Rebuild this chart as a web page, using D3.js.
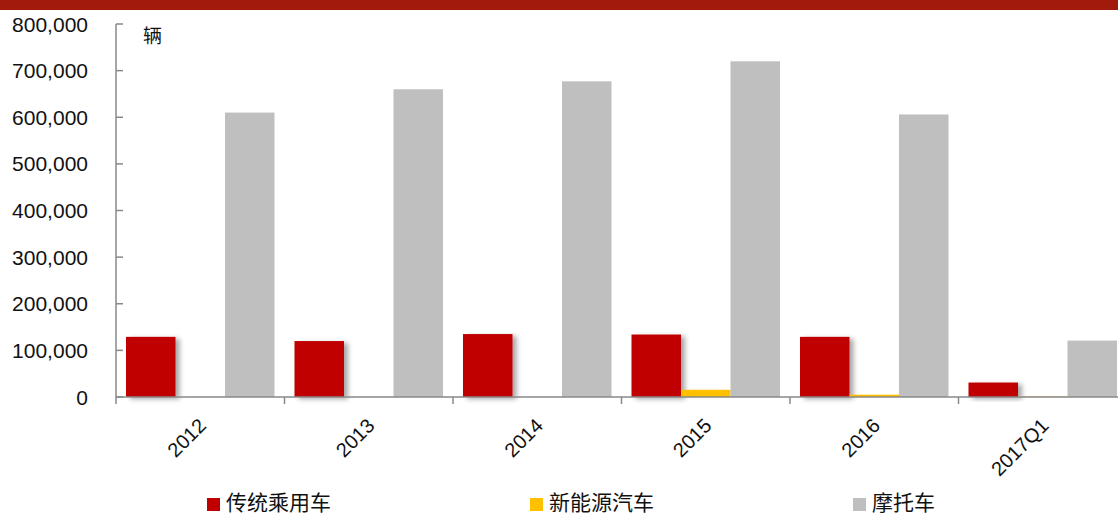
<!DOCTYPE html>
<html lang="zh">
<head>
    <meta charset="UTF-8">
    <title>销量</title>
    <script src="https://cdn.jsdelivr.net/npm/d3@7/dist/d3.min.js"></script>
    <style>
        body {
            margin: 0;
            background-color: #fff;
            font-family: Arial, "Liberation Sans", "Noto Sans CJK SC", sans-serif;
        }
        #chart svg { display: block; }
    </style>
</head>
<body>
<div id="chart"></div>

<script>
    // datos
    const categorias = ["2012", "2013", "2014", "2015", "2016", "2017Q1"];
    const series = ["传统乘用车", "新能源汽车", "摩托车"];
    const colores = ["#C00000", "#FFC000", "#BFBFBF"];
    const turismos = [129000, 120000, 135000, 134000, 129000, 31000];
    const nuevaEnergia = [0, 0, 0, 15500, 5000, 1000];
    const motos = [610000, 660000, 677000, 720000, 606000, 121000];
    const yTicks = [0, 100000, 200000, 300000, 400000, 500000, 600000, 700000, 800000];

    const width = 1118;
    const height = 516;
    const margenIzq = 116, margenSup = 24, baseY = 397;
    const banda = 168.5;

    const svg = d3.select("#chart")
        .append("svg")
        .attr("width", width)
        .attr("height", height);

    const defs = svg.append("defs");
    defs.append("filter")
        .attr("id", "sombra")
        .attr("x", "-20%").attr("y", "-20%")
        .attr("width", "150%").attr("height", "150%")
        .append("feDropShadow")
        .attr("dx", 4).attr("dy", 2)
        .attr("stdDeviation", 2.5)
        .attr("flood-color", "#000")
        .attr("flood-opacity", 0.35);

    // franja superior
    svg.append("rect")
        .attr("x", 0).attr("y", 0)
        .attr("width", width).attr("height", 10)
        .attr("fill", "#A21A0C");

    const x0 = d3.scaleBand()
        .domain(categorias)
        .range([margenIzq, margenIzq + banda * categorias.length])
        .padding(0);

    const x1 = d3.scaleBand()
        .domain(series)
        .range([10, banda - 10])
        .padding(0);

    const y = d3.scaleLinear()
        .domain([0, 800000])
        .range([baseY, margenSup]);

    const datos = categorias.map((c, i) => ({
        cat: c,
        valores: [turismos[i], nuevaEnergia[i], motos[i]]
    }));

    // barras
    const grupos = svg.selectAll("g.grupo")
        .data(datos)
        .enter()
        .append("g")
        .attr("class", "grupo")
        .attr("transform", d => `translate(${x0(d.cat)},0)`);

    grupos.selectAll("rect")
        .data(d => d.valores
            .map((v, j) => ({ serie: series[j], valor: v, j: j }))
            .filter(b => b.valor > 0))
        .enter()
        .append("rect")
        .attr("x", d => x1(d.serie))
        .attr("y", d => y(d.valor))
        .attr("width", x1.bandwidth())
        .attr("height", d => baseY - y(d.valor))
        .attr("fill", d => colores[d.j])
        .attr("filter", d => d.j === 0 ? "url(#sombra)" : null);

    // eje Y
    svg.append("line")
        .attr("x1", margenIzq).attr("x2", margenIzq)
        .attr("y1", margenSup).attr("y2", baseY)
        .attr("stroke", "#888").attr("stroke-width", 1.5);

    svg.selectAll("line.ytick")
        .data(yTicks)
        .enter()
        .append("line")
        .attr("class", "ytick")
        .attr("x1", margenIzq).attr("x2", margenIzq + 7)
        .attr("y1", d => y(d)).attr("y2", d => y(d))
        .attr("stroke", "#888").attr("stroke-width", 1.5);

    svg.selectAll("text.ylabel")
        .data(yTicks)
        .enter()
        .append("text")
        .attr("class", "ylabel")
        .attr("x", 88)
        .attr("y", d => y(d) + 7.5)
        .attr("text-anchor", "end")
        .attr("font-size", "21px")
        .attr("fill", "#111")
        .text(d => d3.format(",")(d));

    svg.append("text")
        .attr("x", 143).attr("y", 43)
        .attr("font-size", "19px")
        .attr("font-family", "'Noto Sans CJK SC', sans-serif")
        .attr("fill", "#111")
        .text("辆");

    // eje X
    svg.append("line")
        .attr("x1", margenIzq).attr("x2", width)
        .attr("y1", baseY).attr("y2", baseY)
        .attr("stroke", "#888").attr("stroke-width", 1.5);

    svg.selectAll("line.xtick")
        .data(categorias)
        .enter()
        .append("line")
        .attr("class", "xtick")
        .attr("x1", d => x0(d)).attr("x2", d => x0(d))
        .attr("y1", baseY).attr("y2", baseY + 7)
        .attr("stroke", "#888").attr("stroke-width", 1.5);

    svg.selectAll("text.xlabel")
        .data(categorias)
        .enter()
        .append("text")
        .attr("class", "xlabel")
        .attr("text-anchor", "end")
        .attr("font-size", "20px")
        .attr("fill", "#111")
        .attr("transform", d => `translate(${x0(d) + x0.bandwidth() / 2 + 7},${baseY + 30}) rotate(-45)`)
        .text(d => d);

    // leyenda
    const leyendaX = [207, 530, 853];
    const leyenda = svg.selectAll("g.leyenda")
        .data(series)
        .enter()
        .append("g")
        .attr("class", "leyenda")
        .attr("transform", (d, i) => `translate(${leyendaX[i]},498)`);

    leyenda.append("rect")
        .attr("width", 13).attr("height", 13)
        .attr("fill", (d, i) => colores[i]);

    leyenda.append("text")
        .attr("x", 19).attr("y", 12)
        .attr("font-size", "21px")
        .attr("font-family", "'Noto Sans CJK SC', sans-serif")
        .attr("fill", "#111")
        .text(d => d);
</script>
</body>
</html>
